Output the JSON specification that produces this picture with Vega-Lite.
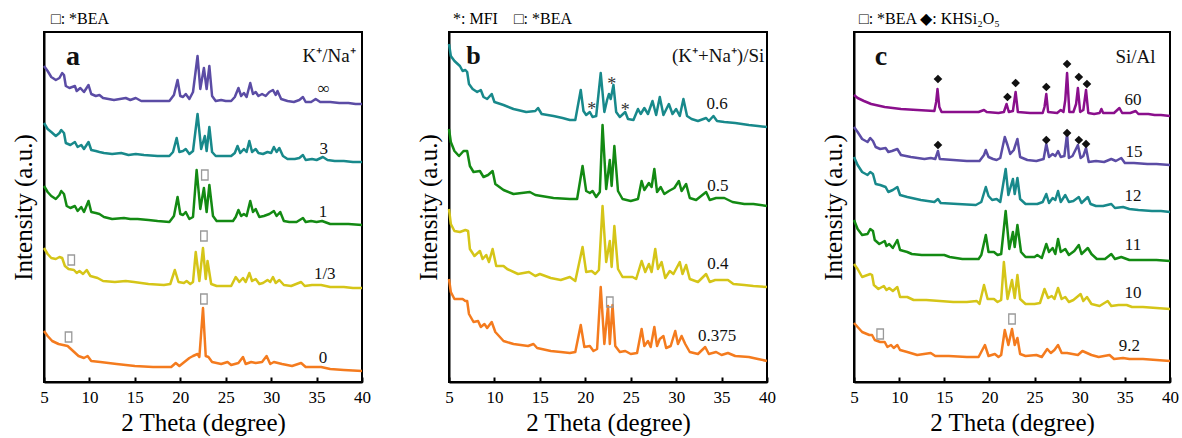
{
  "$schema": "https://vega.github.io/schema/vega-lite/v6.json",
  "background": "white",
  "padding": {"left": 10, "top": 10, "right": 0, "bottom": 0},
  "spacing": 87,
  "bounds": "flush",
  "config": {
    "font": "Liberation Serif",
    "view": {"stroke": "black", "strokeWidth": 2},
    "axis": {"grid": false, "titleFont": "Liberation Serif", "labelFont": "Liberation Serif", "titleFontWeight": "normal", "titleColor": "black", "labelColor": "black", "domainColor": "black", "domainWidth": 2, "tickColor": "black"},
    "axisX": {"tickSize": -5, "tickWidth": 2, "labelFontSize": 17, "labelPadding": 12, "labelFlush": false, "labelOverlap": false, "titleFontSize": 25, "titlePadding": 5},
    "axisY": {"titleFontSize": 25, "titlePadding": 8},
    "title": {"anchor": "start", "frame": "group", "font": "Liberation Serif", "fontSize": 16, "fontWeight": "normal", "offset": 5, "color": "black"},
    "text": {"font": "Liberation Serif", "color": "#111"}
  },
  "datasets": {
    "traces": [
      {"p": "a", "s": "∞",
       "x": [5,5.4,5.8,6.3,6.7,7.0,7.2,7.4,7.8,8.4,8.6,9.0,9.4,9.9,10.2,10.7,11.1,11.5,12.7,14.0,14.5,15.1,15.7,17.5,18.8,19.3,19.7,20.0,20.3,20.6,21.0,21.4,21.9,22.2,22.6,22.9,23.2,23.5,23.9,24.5,25.0,25.6,26.0,26.4,26.7,27.0,27.3,27.7,28.0,28.3,28.6,29.0,29.4,29.8,30.2,30.5,30.7,31.1,31.8,32.5,33.1,33.5,33.8,34.4,34.9,35.4,36.5,37.5,38.5,39.3,40],
       "y": [316,311,305,302,304,309,307,296,294,296,291,294,290,297,288,286,287,284,282,284,282,284,281,281,281,287,302,286,285,288,283,290,326,293,314,293,316,286,281,282,281,281,285,294,286,289,285,299,288,290,286,288,286,290,292,287,291,283,281,280,282,285,280,280,283,280,280,279,279,278,278]},
      {"p": "a", "s": "3",
       "x": [5,5.4,5.8,6.3,6.7,6.9,7.2,7.4,7.9,8.4,8.7,9.1,9.4,9.9,10.2,10.7,11.1,11.6,12.5,13.5,14.3,15.1,16,17.5,18.8,19.2,19.6,19.9,20.3,20.6,21.0,21.4,21.9,22.3,22.7,22.9,23.2,23.5,23.9,24.8,25.6,26.0,26.3,26.6,27.0,27.3,27.6,27.9,28.3,28.6,29.1,29.6,30.0,30.3,30.6,30.9,31.3,31.8,32.6,33.1,33.5,33.8,34.5,35.0,35.7,36.2,37.0,38.0,39.0,40],
       "y": [259,253,250,246,249,252,249,239,237,240,235,237,233,240,232,231,230,229,228,229,227,228,227,226,226,230,244,230,231,233,228,231,268,233,246,231,255,230,226,226,226,229,236,229,233,230,241,230,233,229,228,230,229,235,230,234,226,223,223,224,227,222,223,222,225,222,221,221,220,220]},
      {"p": "a", "s": "1",
       "x": [5,5.4,5.8,6.3,6.7,6.9,7.2,7.5,7.9,8.4,8.7,9.1,9.4,9.9,10.2,10.7,11.1,11.6,12.5,13.8,14.5,15.3,16.5,17.5,18.8,19.3,19.7,20.0,20.3,20.6,21.0,21.4,21.8,22.2,22.6,22.9,23.2,23.6,24.0,25.0,25.8,26.1,26.4,26.7,27.0,27.3,27.7,28.0,28.3,28.7,29.2,29.8,30.3,30.6,31.0,31.4,32.0,32.8,33.5,33.8,34.4,35.0,35.6,36.5,37.5,38.5,40],
       "y": [196,190,186,183,187,191,188,176,174,176,171,175,170,181,170,169,168,165,163,164,163,163,162,161,160,166,185,168,167,170,163,165,212,173,194,170,197,166,161,161,161,165,172,166,168,166,181,170,173,165,166,168,171,166,170,161,160,160,164,160,161,160,161,158,158,158,157]},
      {"p": "a", "s": "1/3",
       "x": [5,5.4,5.8,6.3,6.7,7.0,7.3,7.7,8.3,8.6,8.9,9.3,9.7,10.1,10.9,11.5,12.8,14.0,14.9,16.5,18.2,18.9,19.4,19.8,20.4,20.7,21.1,21.4,21.7,22.1,22.5,22.8,23.0,23.4,24.0,25.6,26.1,26.5,26.9,27.2,27.6,27.9,28.3,28.7,29.1,29.6,29.9,30.2,30.5,30.9,31.4,32.2,33.3,33.7,34.5,35.5,36.5,38.0,39.0,40],
       "y": [134,128,124,123,125,124,116,113,112,109,111,108,112,106,104,101,100,101,100,98,97,98,112,100,99,101,98,100,130,101,134,103,121,98,96,96,105,100,104,100,109,101,103,98,99,102,100,105,99,102,97,96,100,96,97,97,95,95,94,94]},
      {"p": "a", "s": "0",
       "x": [5,5.4,5.9,6.6,7.6,8.2,8.8,9.4,9.8,10.2,11.2,13,15,17,19,19.5,19.9,21.0,21.4,21.9,22.1,22.5,22.8,23.1,23.5,24.5,25.2,25.6,26.4,26.9,27.2,27.8,28.3,29.0,29.5,29.9,30.3,31.2,32.3,33.3,33.8,35.5,36.5,38,40],
       "y": [51,46,41,38,36,31,26,24,26,21,20,18,16,15,15,19,16,24,26,28,25,74,26,25,20,18,20,17,19,25,18,20,19,20,26,18,20,18,16,19,15,15,13,12,11]},
      {"p": "b", "s": "0.6",
       "x": [5,5.2,5.6,6.2,6.5,6.8,7.0,7.2,7.6,8.1,8.5,8.8,9.2,9.7,10.0,11.0,12.1,13.5,14.5,14.8,15.2,16.5,17.5,18.3,18.9,19.5,19.8,20.1,20.5,20.8,21.2,21.7,22.1,22.4,22.6,22.8,23.1,23.4,23.8,24.4,24.7,25.3,25.8,26.1,26.5,26.9,27.4,27.8,28.2,28.6,29.2,29.6,30.0,30.4,30.8,31.2,31.7,32.4,33.3,33.6,34.1,34.5,35.3,36.5,38.0,39.0,40],
       "y": [338,326,321,316,311,312,310,298,293,290,292,285,283,288,280,277,273,270,271,274,268,266,264,262,262,292,271,267,270,265,266,309,270,282,288,283,297,270,265,270,263,262,273,268,274,268,281,267,285,267,278,268,273,266,283,266,263,261,264,261,266,261,260,259,257,256,255]},
      {"p": "b", "s": "0.5",
       "x": [5,5.2,5.6,6.1,6.6,7.0,7.3,7.7,8.4,8.8,9.3,9.8,10.1,11.0,12.1,13.9,14.5,16.5,18.3,19.1,19.7,20.1,20.5,20.8,21.2,21.6,21.9,22.3,22.7,22.9,23.2,23.6,24.1,25.0,25.8,26.2,26.5,27.0,27.3,27.6,27.9,28.3,28.7,29.2,29.8,30.3,30.6,31.1,31.5,32.2,33.3,33.7,34.4,35.3,36.2,37.5,38.5,40],
       "y": [253,240,231,226,231,231,216,210,211,205,207,211,198,192,188,190,187,184,183,183,216,191,189,191,185,190,257,193,222,196,236,191,183,181,183,201,192,199,195,213,190,195,188,191,194,201,191,198,184,182,190,182,184,184,180,178,178,176]},
      {"p": "b", "s": "0.4",
       "x": [5,5.2,5.6,6.2,6.8,7.1,7.3,7.8,8.4,8.7,9.1,9.4,9.8,10.2,11.0,11.4,12.6,13.8,14.5,15.0,16.2,17.3,18.3,18.9,19.7,20.1,20.7,21.1,21.5,21.9,22.3,22.7,22.9,23.2,23.6,24.1,25.2,25.6,26.2,26.6,27.0,27.3,27.7,28.0,28.4,28.8,29.3,29.7,30.4,30.7,31.1,31.5,32.4,33.3,33.7,34.3,35.7,36.3,37.5,38.5,40],
       "y": [173,158,151,150,152,151,133,126,131,123,127,120,133,116,116,113,108,110,106,108,104,102,105,101,135,110,111,108,112,176,120,141,115,156,113,105,105,103,121,110,118,110,133,113,120,104,111,108,120,108,117,103,100,108,100,102,102,98,97,96,95]},
      {"p": "b", "s": "0.375",
       "x": [5,5.2,5.6,6.5,6.8,7.0,7.2,7.7,8.2,8.5,8.9,9.2,9.7,10.1,11.0,12.1,13.7,14.3,14.7,16.2,17.3,18.3,18.9,19.5,19.9,20.5,20.9,21.3,21.7,22.1,22.5,22.7,23.0,23.3,23.8,24.4,25.0,25.7,26.2,26.5,26.9,27.2,27.6,27.9,28.2,28.6,28.9,29.4,29.9,30.2,30.6,31.0,31.5,32.4,33.2,33.6,34.4,35.0,35.7,36.5,38.0,39.0,40],
       "y": [103,90,83,83,81,81,68,60,61,55,58,54,60,50,41,38,36,38,34,31,30,29,30,57,35,36,31,33,95,38,76,38,77,36,30,31,28,29,53,36,41,35,55,36,43,46,34,36,51,38,46,38,30,28,35,28,30,27,29,26,25,23,21]},
      {"p": "c", "s": "60",
       "x": [5,5.4,6.1,6.9,8.4,10.2,12.0,13.9,14.1,14.25,14.45,14.7,17,18.8,19.4,19.7,21.0,21.6,21.9,22.15,22.6,22.9,23.15,24.5,25.9,26.1,26.3,26.5,27.5,27.9,28.2,28.4,28.6,28.85,29.3,29.6,29.8,30.05,30.4,30.7,30.95,31.6,32.2,32.4,32.6,33.8,34.4,34.7,35.6,36.2,36.5,37.6,38.3,39,40],
       "y": [287,284,281,278,275,273,272,271,280,293,275,270,270,270,272,270,269,270,278,270,271,290,270,269,269,275,288,270,269,272,270,282,309,270,270,278,294,270,272,292,269,268,269,273,269,269,274,269,269,271,268,268,267,267,266]},
      {"p": "c", "s": "15",
       "x": [5,5.4,5.9,6.5,6.8,7.1,7.4,7.9,8.5,8.8,9.2,9.8,10.2,11.3,12.8,13.5,14.0,14.3,14.5,16.0,17.5,18.9,19.4,19.6,19.9,20.4,20.8,21.2,21.7,22.0,22.3,22.7,23.1,23.4,24.2,25.2,26.0,26.3,26.6,27.0,27.3,27.6,27.9,28.3,28.6,28.8,29.2,29.8,30.1,30.4,30.7,31.0,31.8,32.7,33.5,34.0,34.6,35.0,36.0,37.5,38.5,40],
       "y": [255,250,243,240,244,241,235,233,234,230,231,233,227,225,223,224,223,231,223,222,221,221,227,232,225,223,222,224,245,237,228,232,243,225,222,221,223,238,225,228,226,231,225,226,248,224,226,237,224,226,234,220,221,220,223,221,224,219,219,218,218,217]},
      {"p": "c", "s": "12",
       "x": [5,5.4,5.9,6.5,6.8,7.1,7.4,7.9,8.5,8.8,9.3,9.8,10.1,10.9,12.4,13.9,14.3,14.6,16.5,18.5,19.1,19.6,19.9,20.3,20.8,21.2,21.8,22.1,22.6,22.8,23.1,23.4,24.0,25.3,25.9,26.3,26.6,27.0,27.3,27.6,27.9,28.4,28.8,29.3,29.9,30.2,30.9,31.2,31.8,32.6,33.5,33.9,34.8,35.5,36.5,38.0,39.0,40],
       "y": [225,217,210,207,210,208,198,197,195,190,192,195,187,185,182,180,183,179,178,177,180,195,186,182,183,180,213,187,203,188,204,183,178,178,180,188,179,184,182,191,180,187,180,181,185,179,185,178,176,176,178,174,175,173,172,171,171,170]},
      {"p": "c", "s": "11",
       "x": [5,5.4,5.9,6.5,6.8,7.1,7.3,7.8,8.4,8.6,8.9,9.3,9.8,10.1,10.9,11.4,12.5,13.9,15.0,15.6,17.0,18.8,19.1,19.6,19.9,20.5,20.9,21.3,21.8,22.2,22.6,22.8,23.1,23.5,24.0,25.0,25.3,25.8,26.3,26.6,27.0,27.3,27.6,27.9,28.4,28.8,29.4,29.9,30.2,30.9,31.3,31.9,32.8,33.5,33.9,34.6,35.5,37.0,38.5,40],
       "y": [162,153,147,148,153,151,142,138,141,136,138,134,142,132,130,128,127,127,127,125,123,123,127,147,130,130,127,128,171,133,150,135,157,130,125,125,127,124,138,130,134,128,143,130,133,127,131,137,128,134,128,123,123,128,123,125,122,122,122,121]},
      {"p": "c", "s": "10",
       "x": [5,5.4,5.9,6.5,6.8,7.0,7.2,7.7,8.3,8.6,8.9,9.3,9.8,10.1,10.9,11.6,13.0,14.5,16.0,17.5,18.6,18.9,19.4,19.8,20.5,20.9,21.3,21.6,22.0,22.5,22.8,23.1,23.4,24.0,25.0,25.6,26.1,26.5,26.9,27.2,27.6,28.0,28.4,28.8,29.3,30.1,30.4,30.8,31.3,32.2,33.1,33.5,34.3,35.2,35.8,37.0,38.5,40],
       "y": [118,113,105,107,108,107,97,93,96,92,94,91,95,85,85,82,82,81,80,80,81,78,97,83,83,80,82,120,83,102,84,107,83,78,78,79,93,84,86,83,94,83,85,80,82,88,81,85,78,76,81,76,77,77,75,75,74,73]},
      {"p": "c", "s": "9.2",
       "x": [5,5.4,5.9,6.7,7.0,7.3,7.9,8.4,8.7,9.1,9.4,9.8,10.1,10.9,12.0,13.5,14.0,15.5,17.5,18.8,19.5,19.9,20.6,21.0,21.3,21.7,22.1,22.5,22.8,23.1,23.4,24.0,25.2,25.8,26.4,26.8,27.2,27.6,28.0,28.6,29.2,29.8,30.3,30.8,31.3,32.1,33.3,33.8,34.8,35.5,37.0,38.5,40],
       "y": [59,55,50,47,47,42,40,40,35,37,34,37,32,30,27,29,26,26,25,25,37,26,28,25,27,52,37,53,37,44,28,26,27,25,33,29,32,37,29,29,28,27,31,29,27,25,27,23,24,23,23,22,21]}
    ],
    "labels": [
      {"p": "a", "k": "series", "t": "∞", "x": 35.8, "y": 293},
      {"p": "a", "k": "series", "t": "3", "x": 35.8, "y": 233},
      {"p": "a", "k": "series", "t": "1", "x": 35.7, "y": 170},
      {"p": "a", "k": "series", "t": "1/3", "x": 35.9, "y": 108},
      {"p": "a", "k": "series", "t": "0", "x": 35.7, "y": 24},
      {"p": "a", "k": "letter", "t": "a", "x": 8.2, "y": 325},
      {"p": "a", "k": "param", "t": "K⁺/Na⁺", "x": 39.3, "y": 326},
      {"p": "b", "k": "series", "t": "0.6", "x": 34.5, "y": 278},
      {"p": "b", "k": "series", "t": "0.5", "x": 34.6, "y": 196},
      {"p": "b", "k": "series", "t": "0.4", "x": 34.6, "y": 118},
      {"p": "b", "k": "series", "t": "0.375", "x": 34.5, "y": 46},
      {"p": "b", "k": "letter", "t": "b", "x": 7.7, "y": 326},
      {"p": "b", "k": "param", "t": "(K⁺+Na⁺)/Si", "x": 39.7, "y": 326},
      {"p": "c", "k": "series", "t": "60", "x": 35.9, "y": 282},
      {"p": "c", "k": "series", "t": "15", "x": 36.0, "y": 230},
      {"p": "c", "k": "series", "t": "12", "x": 35.9, "y": 186},
      {"p": "c", "k": "series", "t": "11", "x": 35.9, "y": 137},
      {"p": "c", "k": "series", "t": "10", "x": 35.9, "y": 89},
      {"p": "c", "k": "series", "t": "9.2", "x": 35.5, "y": 36},
      {"p": "c", "k": "letter", "t": "c", "x": 8.0, "y": 325},
      {"p": "c", "k": "param", "t": "Si/Al", "x": 38.4, "y": 325}
    ],
    "marks": [
      {"p": "a", "m": "box", "x": 22.7, "y": 207},
      {"p": "a", "m": "box", "x": 22.6, "y": 146},
      {"p": "a", "m": "box", "x": 8.0, "y": 122},
      {"p": "a", "m": "box", "x": 22.6, "y": 83},
      {"p": "a", "m": "box", "x": 7.7, "y": 45},
      {"p": "b", "m": "box", "x": 22.7, "y": 80},
      {"p": "b", "m": "star", "x": 20.7, "y": 276},
      {"p": "b", "m": "star", "x": 22.9, "y": 301},
      {"p": "b", "m": "star", "x": 24.4, "y": 275},
      {"p": "c", "m": "box", "x": 22.5, "y": 63},
      {"p": "c", "m": "box", "x": 7.9, "y": 48},
      {"p": "c", "m": "diamond", "x": 14.3, "y": 303},
      {"p": "c", "m": "diamond", "x": 22.0, "y": 285},
      {"p": "c", "m": "diamond", "x": 22.9, "y": 299},
      {"p": "c", "m": "diamond", "x": 26.3, "y": 295},
      {"p": "c", "m": "diamond", "x": 28.6, "y": 318},
      {"p": "c", "m": "diamond", "x": 29.9, "y": 305},
      {"p": "c", "m": "diamond", "x": 30.8, "y": 298},
      {"p": "c", "m": "diamond", "x": 14.3, "y": 237},
      {"p": "c", "m": "diamond", "x": 26.3, "y": 242},
      {"p": "c", "m": "diamond", "x": 28.6, "y": 249},
      {"p": "c", "m": "diamond", "x": 29.9, "y": 242},
      {"p": "c", "m": "diamond", "x": 30.7, "y": 238}
    ]
  },
  "hconcat": [
    {
      "width": 318, "height": 350,
      "title": {"text": "□: *BEA", "dx": 7},
      "encoding": {
        "x": {"field": "x", "type": "quantitative", "scale": {"domain": [5, 40], "nice": false, "zero": false}, "axis": {"title": "2 Theta (degree)", "values": [5, 10, 15, 20, 25, 30, 35, 40]}},
        "y": {"field": "y", "type": "quantitative", "scale": {"domain": [0, 350], "nice": false, "zero": false}, "axis": {"title": "Intensity (a.u.)", "ticks": false, "labels": false}}
      },
      "layer": [
        {"data": {"name": "traces"}, "transform": [{"filter": "datum.p === 'a'"}, {"flatten": ["x", "y"]}],
         "mark": {"type": "line", "strokeWidth": 2.5, "strokeJoin": "round"},
         "encoding": {"color": {"field": "s", "type": "nominal", "scale": {"domain": ["∞", "3", "1", "1/3", "0"], "range": ["#5b4ca5", "#18898b", "#138a13", "#d5c518", "#f47b1e"]}, "legend": null}}},
        {"data": {"name": "labels"}, "transform": [{"filter": "datum.p === 'a' && datum.k === 'series'"}],
         "mark": {"type": "text", "fontSize": 17, "baseline": "middle"},
         "encoding": {"text": {"field": "t", "type": "nominal"}}},
        {"data": {"name": "labels"}, "transform": [{"filter": "datum.p === 'a' && datum.k === 'letter'"}],
         "mark": {"type": "text", "fontSize": 28, "fontWeight": "bold", "baseline": "middle"},
         "encoding": {"text": {"field": "t", "type": "nominal"}}},
        {"data": {"name": "labels"}, "transform": [{"filter": "datum.p === 'a' && datum.k === 'param'"}],
         "mark": {"type": "text", "fontSize": 19, "align": "right", "baseline": "middle"},
         "encoding": {"text": {"field": "t", "type": "nominal"}}},
        {"data": {"name": "marks"}, "transform": [{"filter": "datum.p === 'a' && datum.m === 'box'"}],
         "mark": {"type": "point", "shape": "M-0.65,-1H0.65V1H-0.65Z", "filled": false, "stroke": "#9a9a9a", "strokeWidth": 1.3, "size": 100, "opacity": 1}}
      ]
    },
    {
      "width": 318, "height": 350,
      "title": {"text": "*: MFI\u00a0\u00a0\u00a0\u00a0□: *BEA", "dx": 4},
      "encoding": {
        "x": {"field": "x", "type": "quantitative", "scale": {"domain": [5, 40], "nice": false, "zero": false}, "axis": {"title": "2 Theta (degree)", "values": [5, 10, 15, 20, 25, 30, 35, 40]}},
        "y": {"field": "y", "type": "quantitative", "scale": {"domain": [0, 350], "nice": false, "zero": false}, "axis": {"title": "Intensity (a.u.)", "ticks": false, "labels": false}}
      },
      "layer": [
        {"data": {"name": "traces"}, "transform": [{"filter": "datum.p === 'b'"}, {"flatten": ["x", "y"]}],
         "mark": {"type": "line", "strokeWidth": 2.5, "strokeJoin": "round"},
         "encoding": {"color": {"field": "s", "type": "nominal", "scale": {"domain": ["0.6", "0.5", "0.4", "0.375"], "range": ["#18898b", "#138a13", "#d5c518", "#f47b1e"]}, "legend": null}}},
        {"data": {"name": "labels"}, "transform": [{"filter": "datum.p === 'b' && datum.k === 'series'"}],
         "mark": {"type": "text", "fontSize": 17, "baseline": "middle"},
         "encoding": {"text": {"field": "t", "type": "nominal"}}},
        {"data": {"name": "labels"}, "transform": [{"filter": "datum.p === 'b' && datum.k === 'letter'"}],
         "mark": {"type": "text", "fontSize": 26, "fontWeight": "bold", "baseline": "middle"},
         "encoding": {"text": {"field": "t", "type": "nominal"}}},
        {"data": {"name": "labels"}, "transform": [{"filter": "datum.p === 'b' && datum.k === 'param'"}],
         "mark": {"type": "text", "fontSize": 19, "align": "right", "baseline": "middle"},
         "encoding": {"text": {"field": "t", "type": "nominal"}}},
        {"data": {"name": "marks"}, "transform": [{"filter": "datum.p === 'b' && datum.m === 'box'"}],
         "mark": {"type": "point", "shape": "M-0.65,-1H0.65V1H-0.65Z", "filled": false, "stroke": "#9a9a9a", "strokeWidth": 1.3, "size": 100, "opacity": 1}},
        {"data": {"name": "marks"}, "transform": [{"filter": "datum.p === 'b' && datum.m === 'star'"}],
         "mark": {"type": "text", "text": "*", "fontSize": 18, "baseline": "middle", "dy": 4, "color": "#333"}}
      ]
    },
    {
      "width": 316, "height": 350,
      "title": {"text": "□: *BEA ◆: KHSi₂O₅", "dx": 5},
      "encoding": {
        "x": {"field": "x", "type": "quantitative", "scale": {"domain": [5, 40], "nice": false, "zero": false}, "axis": {"title": "2 Theta (degree)", "values": [5, 10, 15, 20, 25, 30, 35, 40]}},
        "y": {"field": "y", "type": "quantitative", "scale": {"domain": [0, 350], "nice": false, "zero": false}, "axis": {"title": "Intensity (a.u.)", "ticks": false, "labels": false}}
      },
      "layer": [
        {"data": {"name": "traces"}, "transform": [{"filter": "datum.p === 'c'"}, {"flatten": ["x", "y"]}],
         "mark": {"type": "line", "strokeWidth": 2.5, "strokeJoin": "round"},
         "encoding": {"color": {"field": "s", "type": "nominal", "scale": {"domain": ["60", "15", "12", "11", "10", "9.2"], "range": ["#8a0f8c", "#5b4ca5", "#18898b", "#138a13", "#d5c518", "#f47b1e"]}, "legend": null}}},
        {"data": {"name": "labels"}, "transform": [{"filter": "datum.p === 'c' && datum.k === 'series'"}],
         "mark": {"type": "text", "fontSize": 17, "baseline": "middle"},
         "encoding": {"text": {"field": "t", "type": "nominal"}}},
        {"data": {"name": "labels"}, "transform": [{"filter": "datum.p === 'c' && datum.k === 'letter'"}],
         "mark": {"type": "text", "fontSize": 28, "fontWeight": "bold", "baseline": "middle"},
         "encoding": {"text": {"field": "t", "type": "nominal"}}},
        {"data": {"name": "labels"}, "transform": [{"filter": "datum.p === 'c' && datum.k === 'param'"}],
         "mark": {"type": "text", "fontSize": 19, "align": "right", "baseline": "middle"},
         "encoding": {"text": {"field": "t", "type": "nominal"}}},
        {"data": {"name": "marks"}, "transform": [{"filter": "datum.p === 'c' && datum.m === 'box'"}],
         "mark": {"type": "point", "shape": "M-0.65,-1H0.65V1H-0.65Z", "filled": false, "stroke": "#9a9a9a", "strokeWidth": 1.3, "size": 100, "opacity": 1}},
        {"data": {"name": "marks"}, "transform": [{"filter": "datum.p === 'c' && datum.m === 'diamond'"}],
         "mark": {"type": "point", "shape": "diamond", "filled": true, "color": "#111", "size": 75, "opacity": 1}}
      ]
    }
  ],
  "resolve": {"scale": {"color": "independent"}}
}
